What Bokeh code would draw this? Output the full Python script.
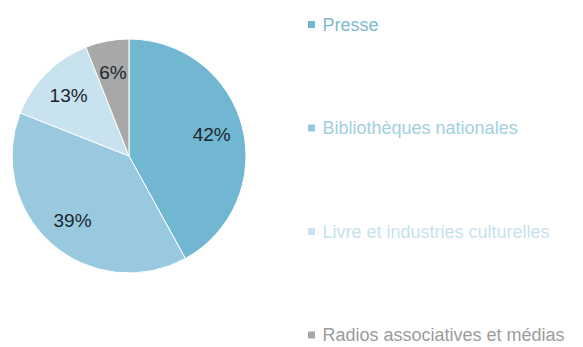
import math
from bokeh.plotting import figure
from bokeh.models import Range1d, ColumnDataSource
from bokeh.core.properties import value
from bokeh.embed import file_html
from bokeh.resources import INLINE

categories = ["Presse", "Bibliothèques nationales", "Livre et industries culturelles", "Radios associatives et médias"]
shares = [42, 39, 13, 6]
labels = ["42%", "39%", "13%", "6%"]
slice_colors = ["#72b7d1", "#98c9df", "#c8e2ee", "#a8a8a8"]
legend_text_colors = ["#80bad1", "#a3cfe1", "#c6e2ed", "#9c9c9c"]

W, H = 583, 347
p = figure(width=W, height=H, output_backend="svg", toolbar_location=None,
           x_range=Range1d(0, W), y_range=Range1d(0, H), min_border=0)
p.axis.visible = False
p.grid.visible = False
p.outline_line_color = None
p.background_fill_color = "white"

cx, cy, r = 128.5, 191.5, 117
total = sum(shares)
starts, ends, lx, ly = [], [], [], []
cum = 0.0
for s in shares:
    a0 = math.pi / 2 - 2 * math.pi * cum / total
    a1 = math.pi / 2 - 2 * math.pi * (cum + s) / total
    mid = (a0 + a1) / 2
    starts.append(a0)
    ends.append(a1)
    lx.append(cx + 0.73 * r * math.cos(mid))
    ly.append(cy + 0.73 * r * math.sin(mid))
    cum += s

src = ColumnDataSource(dict(start=starts, end=ends, color=slice_colors, lx=lx, ly=ly, label=labels))
p.wedge(x=cx, y=cy, radius=r, radius_units="screen", start_angle="start", end_angle="end",
        direction="clock", fill_color="color", line_color="white", line_width=1, source=src)
p.text(x="lx", y="ly", text="label", source=src, text_align="center", text_baseline="middle",
       text_font=value("Liberation Sans"), text_font_size="19px", text_color="#1c2630")

# legend
leg_y = [H - (24 + i * 103.5) for i in range(len(categories))]
leg_src = ColumnDataSource(dict(y=leg_y, name=categories, color=slice_colors, tcolor=legend_text_colors))
p.scatter(x=311, y="y", marker="square", size=7, fill_color="color", line_color=None, source=leg_src)
p.text(x=322, y="y", text="name", source=leg_src, text_align="left", text_baseline="middle",
       text_font=value("Liberation Sans"), text_font_size="18px", text_color="tcolor")

open("out.html", "w").write(file_html(p, INLINE))
